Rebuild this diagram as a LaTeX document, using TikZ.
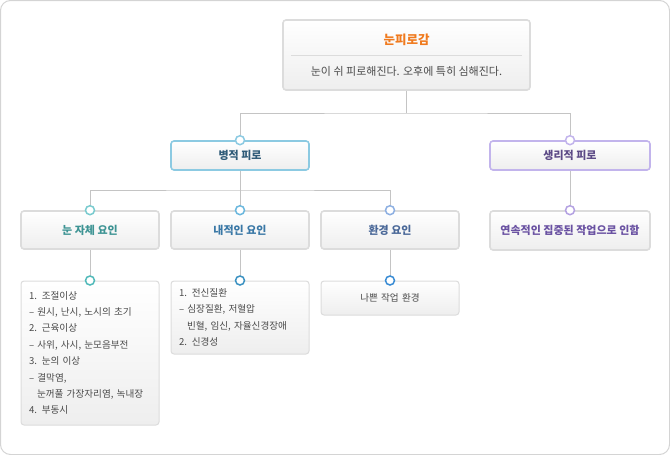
\documentclass[tikz,border=0pt]{standalone}
\usepackage{fontspec}
\setmainfont{Noto Sans CJK KR}
\usetikzlibrary{positioning}

\definecolor{framegray}{HTML}{D4D4D4}
\definecolor{linegray}{HTML}{C4C4C4}
\definecolor{boxgray}{HTML}{DCDCDC}
\definecolor{boxbot}{HTML}{EEEEEE}
\definecolor{titleorange}{HTML}{F07A1E}
\definecolor{textgray}{HTML}{4A4A4A}
\definecolor{sickblue}{HTML}{8CCAE2}
\definecolor{sicktext}{HTML}{2F5B78}
\definecolor{bodyviolet}{HTML}{C2B4EC}
\definecolor{bodytext}{HTML}{5C4A86}
\definecolor{eyeteal}{HTML}{7ACBCF}
\definecolor{eyetext}{HTML}{3E9494}
\definecolor{innerblue}{HTML}{6CB8DE}
\definecolor{innertext}{HTML}{3A78A6}
\definecolor{envblue}{HTML}{8EB0E2}
\definecolor{envtext}{HTML}{4A6898}
\definecolor{workviolet}{HTML}{B4A2E2}
\definecolor{worktext}{HTML}{6A52A2}
\definecolor{eyedot}{HTML}{52BABA}
\definecolor{innerdot}{HTML}{3C92C2}
\definecolor{envdot}{HTML}{3A8CD4}

\begin{document}
\begin{tikzpicture}[x=1pt,y=-1pt, node distance=150pt, on grid,
	conn/.style={draw=linegray, line width=1pt},
	box/.style={rectangle, rounded corners=3pt, line width=1.6pt, top color=white, bottom color=boxbot,
		inner sep=0pt, minimum width=138pt, minimum height=38pt, font=\fontsize{11}{13}\selectfont\bfseries},
	groupbox/.style={box, minimum height=29pt},
	listbox/.style={rectangle, rounded corners=3pt, draw=boxgray, line width=1pt, top color=white, bottom color=boxbot,
		inner xsep=8pt, inner ysep=0pt, minimum width=138pt, text width=122pt, align=left, text=textgray,
		font=\fontsize{9.6}{16.4}\selectfont},
	dot/.style={circle, fill=white, line width=1.5pt, inner sep=0pt, minimum size=9pt}]

	\draw[framegray, line width=1pt, rounded corners=10pt] (0.5,0.5) rectangle (669.5,454.5);
	\useasboundingbox (0,0) rectangle (670,455);

	% top box
	\node[box, draw=boxgray, minimum width=247pt, minimum height=70pt](top) at (406.5,55) {};
	\node[text=titleorange, font=\fontsize{12.5}{14}\selectfont\bfseries](ttl) at (406.5,40) {눈피로감};
	\node[text=textgray, font=\fontsize{11}{13}\selectfont](sub) at (406.5,71) {눈이 쉬 피로해진다. 오후에 특히 심해진다.};
	\draw[boxgray, line width=0.8pt] ([xshift=9pt]top.west) -- ([xshift=-9pt]top.east);

	% groups
	\node[groupbox, draw=sickblue, text=sicktext](p_1) at (240,155.5) {병적 피로};
	\node[groupbox, draw=bodyviolet, text=bodytext, minimum width=160pt](p_2) at (570,155.5) {생리적 피로};

	% factors
	\node[box, draw=boxgray, text=innertext](f_2)[below=74.5pt of p_1] {내적인 요인};
	\node[box, draw=boxgray, text=eyetext](f_1)[left of=f_2] {눈 자체 요인};
	\node[box, draw=boxgray, text=envtext](f_3)[right of=f_2] {환경 요인};
	\node[box, draw=boxgray, text=worktext, minimum width=160pt, minimum height=39pt](f_4)[below=75pt of p_2] {연속적인 집중된 작업으로 인함};

	% details
	\node[listbox, minimum height=144pt](l_1)[below=123pt of f_1] {1. 조절이상\\
		– 원시, 난시, 노시의 초기\\
		2. 근육이상\\
		– 사위, 사시, 눈모음부전\\
		3. 눈의 이상\\
		– 결막염,\\
		\hspace*{8pt}눈꺼풀 가장자리염, 녹내장\\
		4. 부동시};
	\node[listbox, minimum height=73pt](l_2)[below=87.5pt of f_2] {1. 전신질환\\
		– 심장질환, 저혈압\\
		\hspace*{8pt}빈혈, 임신, 자율신경장애\\
		2. 신경성};
	\node[listbox, minimum height=34pt, align=center](l_3)[below=68pt of f_3] {나쁜 작업 환경};

	% connectors
	\coordinate (j_0) at (406.5,113);
	\coordinate (j_1) at (240,190);
	\draw[conn] (top.south) -- (j_0);
	\draw[conn] (p_1.north) |- (j_0) -| (p_2.north);
	\draw[conn] (p_1.south) -- (j_1);
	\draw[conn] (f_1.north) |- (j_1) -| (f_3.north);
	\draw[conn] (j_1) -- (f_2.north);
	\path[conn]
		(p_2) edge (f_4)
		(f_1) edge (l_1)
		(f_2) edge (l_2)
		(f_3) edge (l_3);

	% knots
	\node[dot, draw=sickblue](d_p1) at (p_1.north) {};
	\node[dot, draw=bodyviolet](d_p2) at (p_2.north) {};
	\node[dot, draw=eyeteal](d_f1) at (f_1.north) {};
	\node[dot, draw=innerblue](d_f2) at (f_2.north) {};
	\node[dot, draw=envblue](d_f3) at (f_3.north) {};
	\node[dot, draw=workviolet](d_f4) at (f_4.north) {};
	\node[dot, draw=eyedot](d_l1) at (l_1.north) {};
	\node[dot, draw=innerdot](d_l2) at (l_2.north) {};
	\node[dot, draw=envdot](d_l3) at (l_3.north) {};
\end{tikzpicture}
\end{document}
